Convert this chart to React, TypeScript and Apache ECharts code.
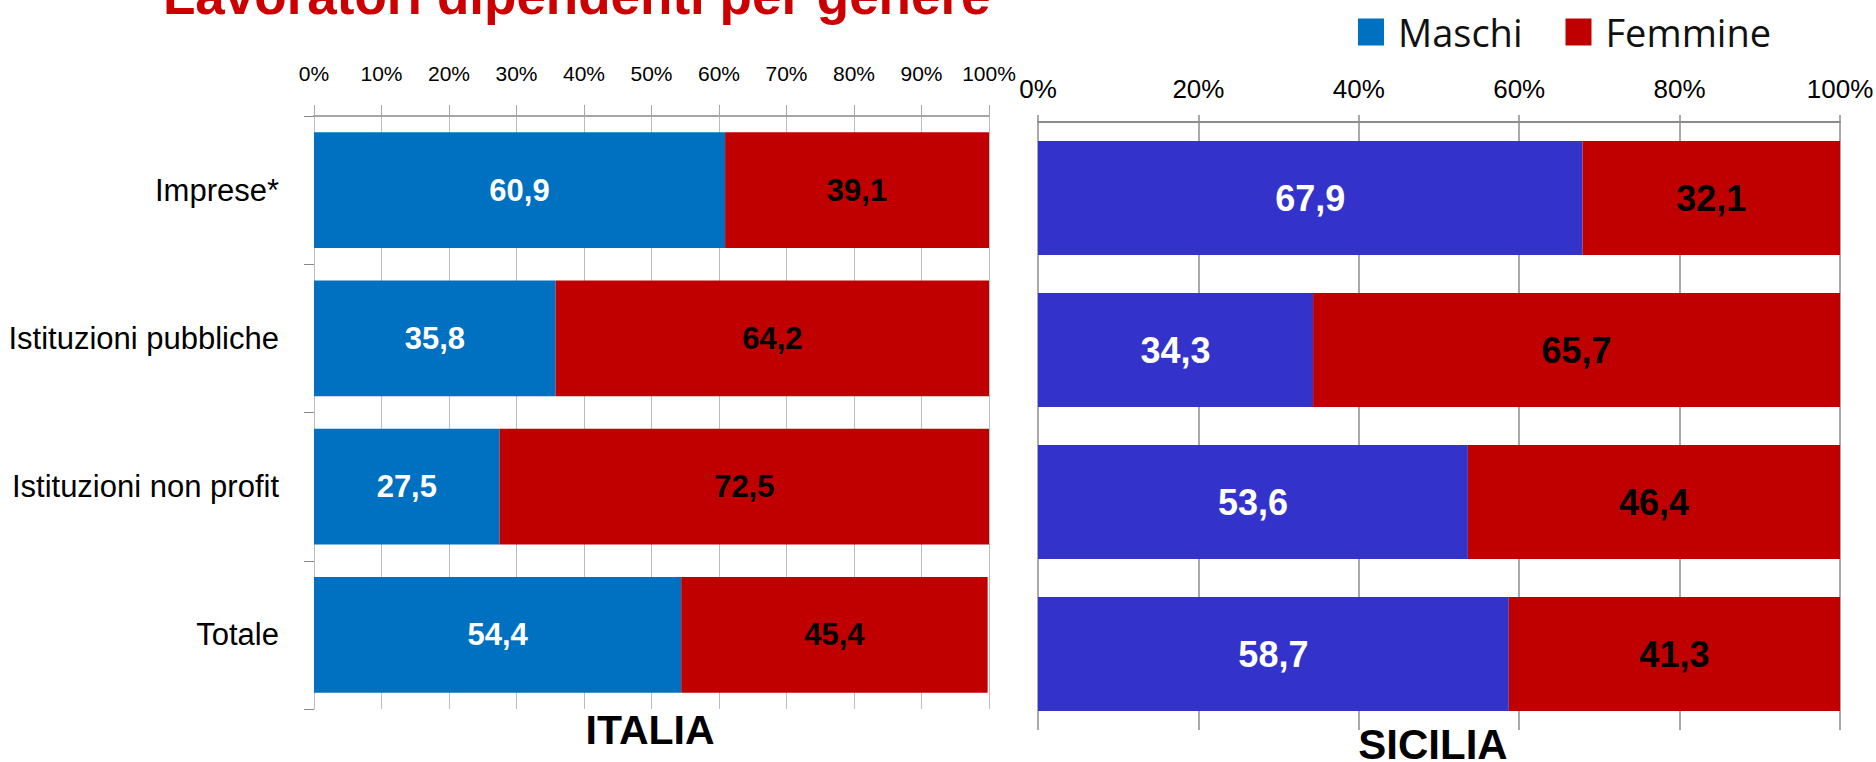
import React, { useEffect, useRef } from "react";
import * as echarts from "echarts";

const categories = ["Imprese*", "Istituzioni pubbliche", "Istituzioni non profit", "Totale"];
const italiaMaschi = [60.9, 35.8, 27.5, 54.4];
const italiaFemmine = [39.1, 64.2, 72.5, 45.4];
const siciliaMaschi = [67.9, 34.3, 53.6, 58.7];
const siciliaFemmine = [32.1, 65.7, 46.4, 41.3];
const seriesNames = ["Maschi", "Femmine"];
const titleText = "Lavoratori dipendenti per genere";
const panelTitles = ["ITALIA", "SICILIA"];

const ARIAL = '"Liberation Sans", Arial, sans-serif';

const fmt = (p: any) => Number(p.value).toFixed(1).replace(".", ",");

export default function App() {
  const ref = useRef<HTMLDivElement>(null);
  useEffect(() => {
    if (!ref.current) return;
    const chart = echarts.init(ref.current, undefined, { renderer: "svg" });
    const option: any = {
      animation: false,
      backgroundColor: "#ffffff",
      legend: {
        data: seriesNames,
        left: 1353,
        top: 8,
        icon: "rect",
        itemWidth: 26,
        itemHeight: 27,
        itemGap: 43,
        textStyle: {
          fontFamily: '"Open Sans", sans-serif',
          fontSize: 38,
          color: "#111",
          padding: [0, 0, 0, 9],
        },
      },
      grid: [
        { left: 314, right: 887, top: 116, bottom: 53, containLabel: false, outerBoundsMode: "none" },
        { left: 1038, right: 36, top: 122, bottom: 32, containLabel: false, outerBoundsMode: "none" },
      ],
      xAxis: [
        {
          gridIndex: 0,
          type: "value",
          position: "top",
          min: 0,
          max: 100,
          interval: 10,
          axisLine: { show: true, lineStyle: { color: "#a6a6a6", width: 2 } },
          axisTick: { show: true, inside: false, length: 11, lineStyle: { color: "#a6a6a6" } },
          splitLine: { show: true, lineStyle: { color: "#bdbdbd", width: 1 } },
          axisLabel: {
            formatter: "{value}%",
            fontFamily: ARIAL,
            fontSize: 21,
            color: "#000",
            margin: 32,
          },
        },
        {
          gridIndex: 1,
          type: "value",
          position: "top",
          min: 0,
          max: 100,
          interval: 20,
          axisLine: { show: true, lineStyle: { color: "#8c8c8c", width: 2 } },
          axisTick: { show: true, inside: false, length: 7, lineStyle: { color: "#8c8c8c", width: 1.5 } },
          splitLine: { show: true, lineStyle: { color: "#8c8c8c", width: 1.5 } },
          axisLabel: {
            formatter: "{value}%",
            fontFamily: ARIAL,
            fontSize: 26,
            color: "#000",
            margin: 20,
          },
        },
      ],
      yAxis: [
        {
          gridIndex: 0,
          type: "category",
          inverse: true,
          data: categories,
          axisLine: { show: true, lineStyle: { color: "#bdbdbd", width: 1 } },
          axisTick: { show: true, inside: false, length: 10, lineStyle: { color: "#888" } },
          axisLabel: {
            fontFamily: ARIAL,
            fontSize: 31,
            color: "#000",
            margin: 35,
          },
        },
        {
          gridIndex: 1,
          type: "category",
          inverse: true,
          data: categories,
          axisLine: { show: false },
          axisTick: { show: false },
          axisLabel: { show: false },
        },
      ],
      series: [
        {
          name: seriesNames[0],
          type: "bar",
          stack: "it",
          xAxisIndex: 0,
          yAxisIndex: 0,
          data: italiaMaschi,
          barCategoryGap: "22%",
          itemStyle: { color: "#0070C0" },
          label: {
            show: true,
            position: "inside",
            formatter: fmt,
            fontFamily: ARIAL,
            fontWeight: "bold",
            fontSize: 31,
            color: "#ffffff",
          },
        },
        {
          name: seriesNames[1],
          type: "bar",
          stack: "it",
          xAxisIndex: 0,
          yAxisIndex: 0,
          data: italiaFemmine,
          barCategoryGap: "22%",
          itemStyle: { color: "#C00000" },
          label: {
            show: true,
            position: "inside",
            formatter: fmt,
            fontFamily: ARIAL,
            fontWeight: "bold",
            fontSize: 31,
            color: "#000000",
          },
        },
        {
          name: seriesNames[0],
          type: "bar",
          stack: "si",
          xAxisIndex: 1,
          yAxisIndex: 1,
          data: siciliaMaschi,
          barCategoryGap: "25%",
          itemStyle: { color: "#3333CC" },
          label: {
            show: true,
            position: "inside",
            formatter: fmt,
            fontFamily: ARIAL,
            fontWeight: "bold",
            fontSize: 36,
            color: "#ffffff",
          },
        },
        {
          name: seriesNames[1],
          type: "bar",
          stack: "si",
          xAxisIndex: 1,
          yAxisIndex: 1,
          data: siciliaFemmine,
          barCategoryGap: "25%",
          itemStyle: { color: "#C00000" },
          label: {
            show: true,
            position: "inside",
            formatter: fmt,
            fontFamily: ARIAL,
            fontWeight: "bold",
            fontSize: 36,
            color: "#000000",
          },
        },
      ],
      graphic: [
        {
          type: "text",
          x: 163,
          y: -5,
          style: {
            text: titleText,
            fontFamily: ARIAL,
            fontWeight: "bold",
            fontSize: 53,
            fill: "#CC0000",
            align: "left",
            verticalAlign: "middle",
          },
        },
        {
          type: "text",
          x: 650,
          y: 730,
          style: {
            text: panelTitles[0],
            fontFamily: ARIAL,
            fontWeight: "bold",
            fontSize: 41,
            fill: "#000",
            align: "center",
            verticalAlign: "middle",
          },
        },
        {
          type: "text",
          x: 1433,
          y: 744,
          style: {
            text: panelTitles[1],
            fontFamily: ARIAL,
            fontWeight: "bold",
            fontSize: 42,
            fill: "#000",
            align: "center",
            verticalAlign: "middle",
          },
        },
      ],
    };
    chart.setOption(option);
    return () => chart.dispose();
  }, []);
  return (
    <div
      ref={ref}
      style={{ position: "fixed", left: 0, top: 0, width: 1876, height: 762, background: "#fff" }}
    />
  );
}
